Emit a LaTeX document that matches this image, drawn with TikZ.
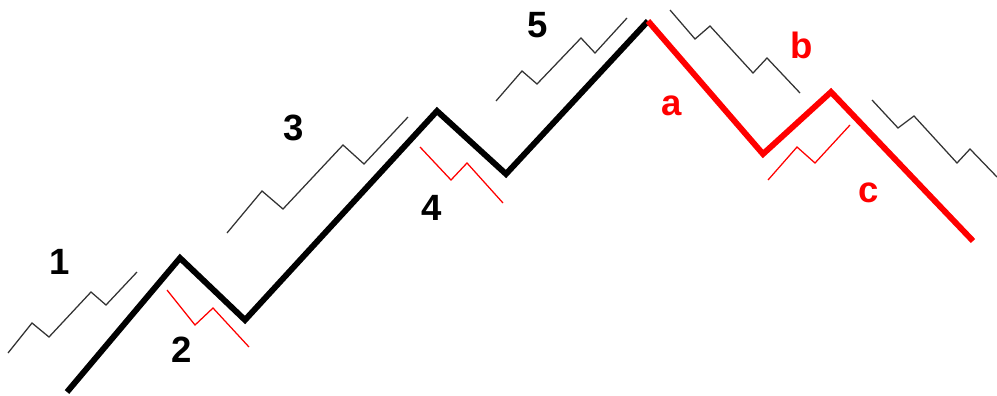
\documentclass[tikz,border=0pt]{standalone}
\usepackage{fontspec}
\setmainfont{Liberation Sans}
\usepackage{xcolor}
\usepackage{tikz}

\begin{document}
\begin{tikzpicture}[
x=0.025cm, y=-0.025cm,
impulse/.style={draw=black, line width=4.2pt, line join=miter},
correct/.style={draw=red, line width=4.2pt, line join=miter},
minor/.style={draw=black!80, line width=0.9pt},
minorred/.style={draw=red, line width=0.9pt},
lbl/.style={font=\fontsize{26}{26}\selectfont\bfseries, inner sep=0pt},
lblred/.style={lbl, text=red}
]
\useasboundingbox (0,0) rectangle (997,395);

% turning points of the main waves
\coordinate (w0) at (67,392);
\coordinate (w1) at (180,258);
\coordinate (w2) at (245,320);
\coordinate (w3) at (437,111);
\coordinate (w4) at (506,174);
\coordinate (w5) at (648,21);
\coordinate (wa) at (763,154);
\coordinate (wb) at (831,92);
\coordinate (wc) at (973,241);

\draw[impulse] (w0) -- (w1) -- (w2) -- (w3) -- (w4) -- (w5);
\draw[correct] (w5) -- (wa) -- (wb) -- (wc);

% sub-waves
\draw[minor] (8,353) -- (32,323) -- (49,337) -- (91,292) -- (106,305) -- (137,272);
\draw[minorred] (167,290) -- (195,325) -- (213,308) -- (249,347);
\draw[minor] (227,233) -- (262,191) -- (283,209) -- (343,145) -- (364,164) -- (408,117);
\draw[minorred] (420,147) -- (451,180) -- (467,163) -- (503,203);
\draw[minor] (496,101) -- (522,71) -- (537,84) -- (581,38) -- (595,53) -- (627,18);
\draw[minor] (670,10) -- (695,39) -- (710,26) -- (753,73) -- (767,58) -- (800,93);
\draw[minorred] (768,180) -- (797,147) -- (815,163) -- (850,125);
\draw[minor] (872,100) -- (898,128) -- (914,116) -- (957,163) -- (970,149) -- (997,177);

% wave labels
\node[lbl] (n1) at (60,262) {1};
\node[lbl] (n2) at (182,350) {2};
\node[lbl] (n3) at (294,128) {3};
\node[lbl] (n4) at (432,208) {4};
\node[lbl] (n5) at (538,25) {5};
\node[lblred] (na) at (672,106) {a};
\node[lblred] (nb) at (802,45) {b};
\node[lblred] (nc) at (869,193) {c};
\end{tikzpicture}
\end{document}
